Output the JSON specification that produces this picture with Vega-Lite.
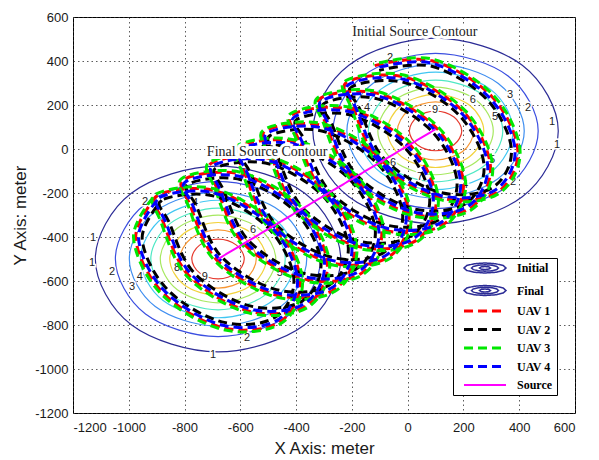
{
 "$schema": "https://vega.github.io/schema/vega-lite/v6.json",
 "width": 502,
 "height": 396,
 "autosize": {"type": "none"},
 "padding": {"left": 73, "top": 17, "right": 24, "bottom": 47},
 "background": "white",
 "config": {
  "view": {"stroke": "#000", "strokeWidth": 1},
  "axis": {"labelFont": "Liberation Sans", "labelFontSize": 13, "labelColor": "#1a1a1a", "titleFont": "Liberation Sans", "titleFontSize": 17, "titleFontWeight": "normal", "titleColor": "#1a1a1a", "domain": false, "ticks": false, "grid": true, "gridColor": "#333", "gridDash": [1.5, 3], "gridWidth": 1, "gridOpacity": 0.8, "labelExpr": "'' + datum.value"},
  "axisX": {"labelPadding": 8, "titlePadding": 6},
  "axisY": {"labelPadding": 5, "titlePadding": 5}
 },
 "datasets": {
  "contour": [
   {"src":"Initial","level":1,"i":0,"x":540,"y":82},{"src":"Initial","level":1,"i":1,"x":411,"y":381},{"src":"Initial","level":1,"i":2,"x":100,"y":504},{"src":"Initial","level":1,"i":3,"x":-211,"y":381},{"src":"Initial","level":1,"i":4,"x":-340,"y":82},{"src":"Initial","level":1,"i":5,"x":-211,"y":-217},{"src":"Initial","level":1,"i":6,"x":100,"y":-340},{"src":"Initial","level":1,"i":7,"x":411,"y":-217},
   {"src":"Initial","level":2,"i":0,"x":468,"y":82},{"src":"Initial","level":2,"i":1,"x":360,"y":332},{"src":"Initial","level":2,"i":2,"x":100,"y":435},{"src":"Initial","level":2,"i":3,"x":-160,"y":332},{"src":"Initial","level":2,"i":4,"x":-268,"y":82},{"src":"Initial","level":2,"i":5,"x":-160,"y":-168},{"src":"Initial","level":2,"i":6,"x":100,"y":-271},{"src":"Initial","level":2,"i":7,"x":360,"y":-168},
   {"src":"Initial","level":3,"i":0,"x":418,"y":82},{"src":"Initial","level":3,"i":1,"x":325,"y":298},{"src":"Initial","level":3,"i":2,"x":100,"y":387},{"src":"Initial","level":3,"i":3,"x":-125,"y":298},{"src":"Initial","level":3,"i":4,"x":-218,"y":82},{"src":"Initial","level":3,"i":5,"x":-125,"y":-134},{"src":"Initial","level":3,"i":6,"x":100,"y":-223},{"src":"Initial","level":3,"i":7,"x":325,"y":-134},
   {"src":"Initial","level":4,"i":0,"x":378,"y":82},{"src":"Initial","level":4,"i":1,"x":297,"y":271},{"src":"Initial","level":4,"i":2,"x":100,"y":349},{"src":"Initial","level":4,"i":3,"x":-97,"y":271},{"src":"Initial","level":4,"i":4,"x":-178,"y":82},{"src":"Initial","level":4,"i":5,"x":-97,"y":-107},{"src":"Initial","level":4,"i":6,"x":100,"y":-185},{"src":"Initial","level":4,"i":7,"x":297,"y":-107},
   {"src":"Initial","level":5,"i":0,"x":341,"y":82},{"src":"Initial","level":5,"i":1,"x":270,"y":245},{"src":"Initial","level":5,"i":2,"x":100,"y":313},{"src":"Initial","level":5,"i":3,"x":-70,"y":245},{"src":"Initial","level":5,"i":4,"x":-141,"y":82},{"src":"Initial","level":5,"i":5,"x":-70,"y":-81},{"src":"Initial","level":5,"i":6,"x":100,"y":-149},{"src":"Initial","level":5,"i":7,"x":270,"y":-81},
   {"src":"Initial","level":6,"i":0,"x":307,"y":82},{"src":"Initial","level":6,"i":1,"x":246,"y":222},{"src":"Initial","level":6,"i":2,"x":100,"y":281},{"src":"Initial","level":6,"i":3,"x":-46,"y":222},{"src":"Initial","level":6,"i":4,"x":-107,"y":82},{"src":"Initial","level":6,"i":5,"x":-46,"y":-58},{"src":"Initial","level":6,"i":6,"x":100,"y":-117},{"src":"Initial","level":6,"i":7,"x":246,"y":-58},
   {"src":"Initial","level":7,"i":0,"x":273,"y":82},{"src":"Initial","level":7,"i":1,"x":222,"y":199},{"src":"Initial","level":7,"i":2,"x":100,"y":248},{"src":"Initial","level":7,"i":3,"x":-22,"y":199},{"src":"Initial","level":7,"i":4,"x":-73,"y":82},{"src":"Initial","level":7,"i":5,"x":-22,"y":-35},{"src":"Initial","level":7,"i":6,"x":100,"y":-84},{"src":"Initial","level":7,"i":7,"x":222,"y":-35},
   {"src":"Initial","level":8,"i":0,"x":237,"y":82},{"src":"Initial","level":8,"i":1,"x":197,"y":175},{"src":"Initial","level":8,"i":2,"x":100,"y":214},{"src":"Initial","level":8,"i":3,"x":3,"y":175},{"src":"Initial","level":8,"i":4,"x":-37,"y":82},{"src":"Initial","level":8,"i":5,"x":3,"y":-11},{"src":"Initial","level":8,"i":6,"x":100,"y":-50},{"src":"Initial","level":8,"i":7,"x":197,"y":-11},
   {"src":"Initial","level":9,"i":0,"x":194,"y":82},{"src":"Initial","level":9,"i":1,"x":166,"y":145},{"src":"Initial","level":9,"i":2,"x":100,"y":172},{"src":"Initial","level":9,"i":3,"x":34,"y":145},{"src":"Initial","level":9,"i":4,"x":6,"y":82},{"src":"Initial","level":9,"i":5,"x":34,"y":19},{"src":"Initial","level":9,"i":6,"x":100,"y":-8},{"src":"Initial","level":9,"i":7,"x":166,"y":19},
   {"src":"Final","level":1,"i":0,"x":-240,"y":-500},{"src":"Final","level":1,"i":1,"x":-369,"y":-201},{"src":"Final","level":1,"i":2,"x":-680,"y":-78},{"src":"Final","level":1,"i":3,"x":-991,"y":-201},{"src":"Final","level":1,"i":4,"x":-1120,"y":-500},{"src":"Final","level":1,"i":5,"x":-991,"y":-799},{"src":"Final","level":1,"i":6,"x":-680,"y":-922},{"src":"Final","level":1,"i":7,"x":-369,"y":-799},
   {"src":"Final","level":2,"i":0,"x":-312,"y":-500},{"src":"Final","level":2,"i":1,"x":-420,"y":-250},{"src":"Final","level":2,"i":2,"x":-680,"y":-147},{"src":"Final","level":2,"i":3,"x":-940,"y":-250},{"src":"Final","level":2,"i":4,"x":-1048,"y":-500},{"src":"Final","level":2,"i":5,"x":-940,"y":-750},{"src":"Final","level":2,"i":6,"x":-680,"y":-853},{"src":"Final","level":2,"i":7,"x":-420,"y":-750},
   {"src":"Final","level":3,"i":0,"x":-362,"y":-500},{"src":"Final","level":3,"i":1,"x":-455,"y":-284},{"src":"Final","level":3,"i":2,"x":-680,"y":-195},{"src":"Final","level":3,"i":3,"x":-905,"y":-284},{"src":"Final","level":3,"i":4,"x":-998,"y":-500},{"src":"Final","level":3,"i":5,"x":-905,"y":-716},{"src":"Final","level":3,"i":6,"x":-680,"y":-805},{"src":"Final","level":3,"i":7,"x":-455,"y":-716},
   {"src":"Final","level":4,"i":0,"x":-402,"y":-500},{"src":"Final","level":4,"i":1,"x":-483,"y":-311},{"src":"Final","level":4,"i":2,"x":-680,"y":-233},{"src":"Final","level":4,"i":3,"x":-877,"y":-311},{"src":"Final","level":4,"i":4,"x":-958,"y":-500},{"src":"Final","level":4,"i":5,"x":-877,"y":-689},{"src":"Final","level":4,"i":6,"x":-680,"y":-767},{"src":"Final","level":4,"i":7,"x":-483,"y":-689},
   {"src":"Final","level":5,"i":0,"x":-439,"y":-500},{"src":"Final","level":5,"i":1,"x":-510,"y":-337},{"src":"Final","level":5,"i":2,"x":-680,"y":-269},{"src":"Final","level":5,"i":3,"x":-850,"y":-337},{"src":"Final","level":5,"i":4,"x":-921,"y":-500},{"src":"Final","level":5,"i":5,"x":-850,"y":-663},{"src":"Final","level":5,"i":6,"x":-680,"y":-731},{"src":"Final","level":5,"i":7,"x":-510,"y":-663},
   {"src":"Final","level":6,"i":0,"x":-473,"y":-500},{"src":"Final","level":6,"i":1,"x":-534,"y":-360},{"src":"Final","level":6,"i":2,"x":-680,"y":-301},{"src":"Final","level":6,"i":3,"x":-826,"y":-360},{"src":"Final","level":6,"i":4,"x":-887,"y":-500},{"src":"Final","level":6,"i":5,"x":-826,"y":-640},{"src":"Final","level":6,"i":6,"x":-680,"y":-699},{"src":"Final","level":6,"i":7,"x":-534,"y":-640},
   {"src":"Final","level":7,"i":0,"x":-507,"y":-500},{"src":"Final","level":7,"i":1,"x":-558,"y":-383},{"src":"Final","level":7,"i":2,"x":-680,"y":-334},{"src":"Final","level":7,"i":3,"x":-802,"y":-383},{"src":"Final","level":7,"i":4,"x":-853,"y":-500},{"src":"Final","level":7,"i":5,"x":-802,"y":-617},{"src":"Final","level":7,"i":6,"x":-680,"y":-666},{"src":"Final","level":7,"i":7,"x":-558,"y":-617},
   {"src":"Final","level":8,"i":0,"x":-543,"y":-500},{"src":"Final","level":8,"i":1,"x":-583,"y":-407},{"src":"Final","level":8,"i":2,"x":-680,"y":-368},{"src":"Final","level":8,"i":3,"x":-777,"y":-407},{"src":"Final","level":8,"i":4,"x":-817,"y":-500},{"src":"Final","level":8,"i":5,"x":-777,"y":-593},{"src":"Final","level":8,"i":6,"x":-680,"y":-632},{"src":"Final","level":8,"i":7,"x":-583,"y":-593},
   {"src":"Final","level":9,"i":0,"x":-586,"y":-500},{"src":"Final","level":9,"i":1,"x":-614,"y":-437},{"src":"Final","level":9,"i":2,"x":-680,"y":-410},{"src":"Final","level":9,"i":3,"x":-746,"y":-437},{"src":"Final","level":9,"i":4,"x":-774,"y":-500},{"src":"Final","level":9,"i":5,"x":-746,"y":-563},{"src":"Final","level":9,"i":6,"x":-680,"y":-590},{"src":"Final","level":9,"i":7,"x":-614,"y":-563}
  ],
  "clabels": [
   {"x":-63,"y":414,"t":"2"},{"x":432,"y":186,"t":"2"},{"x":367,"y":245,"t":"3"},{"x":313,"y":145,"t":"5"},{"x":234,"y":223,"t":"6"},{"x":98,"y":177,"t":"9"},{"x":44,"y":-127,"t":"7"},{"x":-52,"y":-64,"t":"6"},{"x":-146,"y":186,"t":"4"},{"x":206,"y":-164,"t":"4"},{"x":518,"y":123,"t":"1"},{"x":536,"y":20,"t":"1"},{"x":378,"y":-150,"t":"2"},{"x":303,"y":-50,"t":"5"},
   {"x":-1128,"y":-404,"t":"1"},{"x":-1132,"y":-518,"t":"1"},{"x":-1060,"y":-559,"t":"2"},{"x":-988,"y":-627,"t":"3"},{"x":-960,"y":-582,"t":"4"},{"x":-942,"y":-241,"t":"2"},{"x":-762,"y":-245,"t":"4"},{"x":-827,"y":-541,"t":"8"},{"x":-727,"y":-582,"t":"9"},{"x":-554,"y":-368,"t":"6"},{"x":-458,"y":-564,"t":"5"},{"x":-698,"y":-936,"t":"1"},{"x":-576,"y":-859,"t":"2"}
  ],
  "notes": [
   {"x":26,"y":532,"t":"Initial Source Contour"},
   {"x":-504,"y":-14,"t":"Final Source Contour"}
  ],
  "source": [
   {"uav":"Source","i":0,"x":100,"y":90},
   {"uav":"Source","i":1,"x":-680,"y":-500}
  ],
  "uav": [
   {"uav":"UAV 1","i":0,"x":-118,"y":379},{"uav":"UAV 1","i":1,"x":87,"y":401},{"uav":"UAV 1","i":2,"x":300,"y":241},{"uav":"UAV 1","i":3,"x":395,"y":-8},{"uav":"UAV 1","i":4,"x":318,"y":-199},{"uav":"UAV 1","i":5,"x":113,"y":-221},{"uav":"UAV 1","i":6,"x":-100,"y":-61},{"uav":"UAV 1","i":7,"x":-195,"y":188},
   {"uav":"UAV 1","i":8,"x":-216,"y":305},{"uav":"UAV 1","i":9,"x":-11,"y":327},{"uav":"UAV 1","i":10,"x":202,"y":167},{"uav":"UAV 1","i":11,"x":297,"y":-82},{"uav":"UAV 1","i":12,"x":220,"y":-273},{"uav":"UAV 1","i":13,"x":15,"y":-295},{"uav":"UAV 1","i":14,"x":-198,"y":-135},{"uav":"UAV 1","i":15,"x":-293,"y":114},
   {"uav":"UAV 1","i":16,"x":-313,"y":231},{"uav":"UAV 1","i":17,"x":-108,"y":253},{"uav":"UAV 1","i":18,"x":105,"y":93},{"uav":"UAV 1","i":19,"x":200,"y":-156},{"uav":"UAV 1","i":20,"x":123,"y":-347},{"uav":"UAV 1","i":21,"x":-82,"y":-369},{"uav":"UAV 1","i":22,"x":-295,"y":-209},{"uav":"UAV 1","i":23,"x":-390,"y":40},
   {"uav":"UAV 1","i":24,"x":-411,"y":158},{"uav":"UAV 1","i":25,"x":-206,"y":180},{"uav":"UAV 1","i":26,"x":7,"y":20},{"uav":"UAV 1","i":27,"x":102,"y":-229},{"uav":"UAV 1","i":28,"x":25,"y":-420},{"uav":"UAV 1","i":29,"x":-180,"y":-442},{"uav":"UAV 1","i":30,"x":-393,"y":-282},{"uav":"UAV 1","i":31,"x":-488,"y":-33},
   {"uav":"UAV 1","i":32,"x":-508,"y":84},{"uav":"UAV 1","i":33,"x":-303,"y":106},{"uav":"UAV 1","i":34,"x":-90,"y":-54},{"uav":"UAV 1","i":35,"x":5,"y":-303},{"uav":"UAV 1","i":36,"x":-72,"y":-494},{"uav":"UAV 1","i":37,"x":-277,"y":-516},{"uav":"UAV 1","i":38,"x":-490,"y":-356},{"uav":"UAV 1","i":39,"x":-585,"y":-107},
   {"uav":"UAV 1","i":40,"x":-606,"y":10},{"uav":"UAV 1","i":41,"x":-401,"y":32},{"uav":"UAV 1","i":42,"x":-188,"y":-128},{"uav":"UAV 1","i":43,"x":-93,"y":-377},{"uav":"UAV 1","i":44,"x":-170,"y":-568},{"uav":"UAV 1","i":45,"x":-375,"y":-590},{"uav":"UAV 1","i":46,"x":-588,"y":-430},{"uav":"UAV 1","i":47,"x":-683,"y":-181},
   {"uav":"UAV 1","i":48,"x":-703,"y":-64},{"uav":"UAV 1","i":49,"x":-498,"y":-42},{"uav":"UAV 1","i":50,"x":-285,"y":-202},{"uav":"UAV 1","i":51,"x":-190,"y":-451},{"uav":"UAV 1","i":52,"x":-267,"y":-642},{"uav":"UAV 1","i":53,"x":-472,"y":-664},{"uav":"UAV 1","i":54,"x":-685,"y":-504},{"uav":"UAV 1","i":55,"x":-780,"y":-255},
   {"uav":"UAV 1","i":56,"x":-801,"y":-137},{"uav":"UAV 1","i":57,"x":-596,"y":-115},{"uav":"UAV 1","i":58,"x":-383,"y":-275},{"uav":"UAV 1","i":59,"x":-288,"y":-524},{"uav":"UAV 1","i":60,"x":-365,"y":-715},{"uav":"UAV 1","i":61,"x":-570,"y":-737},{"uav":"UAV 1","i":62,"x":-783,"y":-577},{"uav":"UAV 1","i":63,"x":-878,"y":-328},
   {"uav":"UAV 1","i":64,"x":-898,"y":-211},{"uav":"UAV 1","i":65,"x":-693,"y":-189},{"uav":"UAV 1","i":66,"x":-480,"y":-349},{"uav":"UAV 1","i":67,"x":-385,"y":-598},{"uav":"UAV 1","i":68,"x":-462,"y":-789},{"uav":"UAV 1","i":69,"x":-667,"y":-811},{"uav":"UAV 1","i":70,"x":-880,"y":-651},{"uav":"UAV 1","i":71,"x":-975,"y":-402},{"uav":"UAV 1","i":72,"x":-898,"y":-211},
   {"uav":"UAV 2","i":0,"x":-102,"y":357},{"uav":"UAV 2","i":1,"x":86,"y":376},{"uav":"UAV 2","i":2,"x":282,"y":228},{"uav":"UAV 2","i":3,"x":372,"y":-2},{"uav":"UAV 2","i":4,"x":302,"y":-177},{"uav":"UAV 2","i":5,"x":114,"y":-196},{"uav":"UAV 2","i":6,"x":-82,"y":-48},{"uav":"UAV 2","i":7,"x":-172,"y":182},
   {"uav":"UAV 2","i":8,"x":-200,"y":283},{"uav":"UAV 2","i":9,"x":-12,"y":302},{"uav":"UAV 2","i":10,"x":184,"y":154},{"uav":"UAV 2","i":11,"x":274,"y":-76},{"uav":"UAV 2","i":12,"x":204,"y":-251},{"uav":"UAV 2","i":13,"x":16,"y":-270},{"uav":"UAV 2","i":14,"x":-180,"y":-122},{"uav":"UAV 2","i":15,"x":-270,"y":108},
   {"uav":"UAV 2","i":16,"x":-297,"y":209},{"uav":"UAV 2","i":17,"x":-109,"y":228},{"uav":"UAV 2","i":18,"x":87,"y":80},{"uav":"UAV 2","i":19,"x":177,"y":-150},{"uav":"UAV 2","i":20,"x":107,"y":-325},{"uav":"UAV 2","i":21,"x":-81,"y":-344},{"uav":"UAV 2","i":22,"x":-277,"y":-196},{"uav":"UAV 2","i":23,"x":-367,"y":34},
   {"uav":"UAV 2","i":24,"x":-395,"y":136},{"uav":"UAV 2","i":25,"x":-207,"y":155},{"uav":"UAV 2","i":26,"x":-11,"y":7},{"uav":"UAV 2","i":27,"x":79,"y":-223},{"uav":"UAV 2","i":28,"x":9,"y":-398},{"uav":"UAV 2","i":29,"x":-179,"y":-417},{"uav":"UAV 2","i":30,"x":-375,"y":-269},{"uav":"UAV 2","i":31,"x":-465,"y":-39},
   {"uav":"UAV 2","i":32,"x":-492,"y":62},{"uav":"UAV 2","i":33,"x":-304,"y":81},{"uav":"UAV 2","i":34,"x":-108,"y":-67},{"uav":"UAV 2","i":35,"x":-18,"y":-297},{"uav":"UAV 2","i":36,"x":-88,"y":-472},{"uav":"UAV 2","i":37,"x":-276,"y":-491},{"uav":"UAV 2","i":38,"x":-472,"y":-343},{"uav":"UAV 2","i":39,"x":-562,"y":-113},
   {"uav":"UAV 2","i":40,"x":-590,"y":-12},{"uav":"UAV 2","i":41,"x":-402,"y":7},{"uav":"UAV 2","i":42,"x":-206,"y":-141},{"uav":"UAV 2","i":43,"x":-116,"y":-371},{"uav":"UAV 2","i":44,"x":-186,"y":-546},{"uav":"UAV 2","i":45,"x":-374,"y":-565},{"uav":"UAV 2","i":46,"x":-570,"y":-417},{"uav":"UAV 2","i":47,"x":-660,"y":-187},
   {"uav":"UAV 2","i":48,"x":-687,"y":-86},{"uav":"UAV 2","i":49,"x":-499,"y":-67},{"uav":"UAV 2","i":50,"x":-303,"y":-215},{"uav":"UAV 2","i":51,"x":-213,"y":-445},{"uav":"UAV 2","i":52,"x":-283,"y":-620},{"uav":"UAV 2","i":53,"x":-471,"y":-639},{"uav":"UAV 2","i":54,"x":-667,"y":-491},{"uav":"UAV 2","i":55,"x":-757,"y":-261},
   {"uav":"UAV 2","i":56,"x":-785,"y":-159},{"uav":"UAV 2","i":57,"x":-597,"y":-140},{"uav":"UAV 2","i":58,"x":-401,"y":-288},{"uav":"UAV 2","i":59,"x":-311,"y":-518},{"uav":"UAV 2","i":60,"x":-381,"y":-693},{"uav":"UAV 2","i":61,"x":-569,"y":-712},{"uav":"UAV 2","i":62,"x":-765,"y":-564},{"uav":"UAV 2","i":63,"x":-855,"y":-334},
   {"uav":"UAV 2","i":64,"x":-882,"y":-233},{"uav":"UAV 2","i":65,"x":-694,"y":-214},{"uav":"UAV 2","i":66,"x":-498,"y":-362},{"uav":"UAV 2","i":67,"x":-408,"y":-592},{"uav":"UAV 2","i":68,"x":-478,"y":-767},{"uav":"UAV 2","i":69,"x":-666,"y":-786},{"uav":"UAV 2","i":70,"x":-862,"y":-638},{"uav":"UAV 2","i":71,"x":-952,"y":-408},{"uav":"UAV 2","i":72,"x":-882,"y":-233},
   {"uav":"UAV 3","i":0,"x":-123,"y":385},{"uav":"UAV 3","i":1,"x":88,"y":409},{"uav":"UAV 3","i":2,"x":306,"y":246},{"uav":"UAV 3","i":3,"x":403,"y":-9},{"uav":"UAV 3","i":4,"x":323,"y":-205},{"uav":"UAV 3","i":5,"x":112,"y":-229},{"uav":"UAV 3","i":6,"x":-106,"y":-66},{"uav":"UAV 3","i":7,"x":-203,"y":189},
   {"uav":"UAV 3","i":8,"x":-221,"y":311},{"uav":"UAV 3","i":9,"x":-10,"y":335},{"uav":"UAV 3","i":10,"x":208,"y":172},{"uav":"UAV 3","i":11,"x":305,"y":-83},{"uav":"UAV 3","i":12,"x":225,"y":-279},{"uav":"UAV 3","i":13,"x":14,"y":-303},{"uav":"UAV 3","i":14,"x":-204,"y":-140},{"uav":"UAV 3","i":15,"x":-301,"y":115},
   {"uav":"UAV 3","i":16,"x":-318,"y":237},{"uav":"UAV 3","i":17,"x":-107,"y":261},{"uav":"UAV 3","i":18,"x":111,"y":98},{"uav":"UAV 3","i":19,"x":208,"y":-157},{"uav":"UAV 3","i":20,"x":128,"y":-353},{"uav":"UAV 3","i":21,"x":-83,"y":-377},{"uav":"UAV 3","i":22,"x":-301,"y":-214},{"uav":"UAV 3","i":23,"x":-398,"y":41},
   {"uav":"UAV 3","i":24,"x":-416,"y":164},{"uav":"UAV 3","i":25,"x":-205,"y":188},{"uav":"UAV 3","i":26,"x":13,"y":25},{"uav":"UAV 3","i":27,"x":110,"y":-230},{"uav":"UAV 3","i":28,"x":30,"y":-426},{"uav":"UAV 3","i":29,"x":-181,"y":-450},{"uav":"UAV 3","i":30,"x":-399,"y":-287},{"uav":"UAV 3","i":31,"x":-496,"y":-32},
   {"uav":"UAV 3","i":32,"x":-513,"y":90},{"uav":"UAV 3","i":33,"x":-302,"y":114},{"uav":"UAV 3","i":34,"x":-84,"y":-49},{"uav":"UAV 3","i":35,"x":13,"y":-304},{"uav":"UAV 3","i":36,"x":-67,"y":-500},{"uav":"UAV 3","i":37,"x":-278,"y":-524},{"uav":"UAV 3","i":38,"x":-496,"y":-361},{"uav":"UAV 3","i":39,"x":-593,"y":-106},
   {"uav":"UAV 3","i":40,"x":-611,"y":16},{"uav":"UAV 3","i":41,"x":-400,"y":40},{"uav":"UAV 3","i":42,"x":-182,"y":-123},{"uav":"UAV 3","i":43,"x":-85,"y":-378},{"uav":"UAV 3","i":44,"x":-165,"y":-574},{"uav":"UAV 3","i":45,"x":-376,"y":-598},{"uav":"UAV 3","i":46,"x":-594,"y":-435},{"uav":"UAV 3","i":47,"x":-691,"y":-180},
   {"uav":"UAV 3","i":48,"x":-708,"y":-58},{"uav":"UAV 3","i":49,"x":-497,"y":-34},{"uav":"UAV 3","i":50,"x":-279,"y":-197},{"uav":"UAV 3","i":51,"x":-182,"y":-452},{"uav":"UAV 3","i":52,"x":-262,"y":-648},{"uav":"UAV 3","i":53,"x":-473,"y":-672},{"uav":"UAV 3","i":54,"x":-691,"y":-509},{"uav":"UAV 3","i":55,"x":-788,"y":-254},
   {"uav":"UAV 3","i":56,"x":-806,"y":-131},{"uav":"UAV 3","i":57,"x":-595,"y":-107},{"uav":"UAV 3","i":58,"x":-377,"y":-270},{"uav":"UAV 3","i":59,"x":-280,"y":-525},{"uav":"UAV 3","i":60,"x":-360,"y":-721},{"uav":"UAV 3","i":61,"x":-571,"y":-745},{"uav":"UAV 3","i":62,"x":-789,"y":-582},{"uav":"UAV 3","i":63,"x":-886,"y":-327},
   {"uav":"UAV 3","i":64,"x":-903,"y":-205},{"uav":"UAV 3","i":65,"x":-692,"y":-181},{"uav":"UAV 3","i":66,"x":-474,"y":-344},{"uav":"UAV 3","i":67,"x":-377,"y":-599},{"uav":"UAV 3","i":68,"x":-457,"y":-795},{"uav":"UAV 3","i":69,"x":-668,"y":-819},{"uav":"UAV 3","i":70,"x":-886,"y":-656},{"uav":"UAV 3","i":71,"x":-983,"y":-401},{"uav":"UAV 3","i":72,"x":-903,"y":-205},
   {"uav":"UAV 4","i":0,"x":-111,"y":369},{"uav":"UAV 4","i":1,"x":86,"y":390},{"uav":"UAV 4","i":2,"x":292,"y":235},{"uav":"UAV 4","i":3,"x":385,"y":-5},{"uav":"UAV 4","i":4,"x":311,"y":-189},{"uav":"UAV 4","i":5,"x":114,"y":-210},{"uav":"UAV 4","i":6,"x":-92,"y":-55},{"uav":"UAV 4","i":7,"x":-185,"y":185},
   {"uav":"UAV 4","i":8,"x":-209,"y":295},{"uav":"UAV 4","i":9,"x":-12,"y":316},{"uav":"UAV 4","i":10,"x":194,"y":161},{"uav":"UAV 4","i":11,"x":287,"y":-79},{"uav":"UAV 4","i":12,"x":213,"y":-263},{"uav":"UAV 4","i":13,"x":16,"y":-284},{"uav":"UAV 4","i":14,"x":-190,"y":-129},{"uav":"UAV 4","i":15,"x":-283,"y":111},
   {"uav":"UAV 4","i":16,"x":-306,"y":221},{"uav":"UAV 4","i":17,"x":-109,"y":242},{"uav":"UAV 4","i":18,"x":97,"y":87},{"uav":"UAV 4","i":19,"x":190,"y":-153},{"uav":"UAV 4","i":20,"x":116,"y":-337},{"uav":"UAV 4","i":21,"x":-81,"y":-358},{"uav":"UAV 4","i":22,"x":-287,"y":-203},{"uav":"UAV 4","i":23,"x":-380,"y":37},
   {"uav":"UAV 4","i":24,"x":-404,"y":148},{"uav":"UAV 4","i":25,"x":-207,"y":169},{"uav":"UAV 4","i":26,"x":-1,"y":14},{"uav":"UAV 4","i":27,"x":92,"y":-226},{"uav":"UAV 4","i":28,"x":18,"y":-410},{"uav":"UAV 4","i":29,"x":-179,"y":-431},{"uav":"UAV 4","i":30,"x":-385,"y":-276},{"uav":"UAV 4","i":31,"x":-478,"y":-36},
   {"uav":"UAV 4","i":32,"x":-501,"y":74},{"uav":"UAV 4","i":33,"x":-304,"y":95},{"uav":"UAV 4","i":34,"x":-98,"y":-60},{"uav":"UAV 4","i":35,"x":-5,"y":-300},{"uav":"UAV 4","i":36,"x":-79,"y":-484},{"uav":"UAV 4","i":37,"x":-276,"y":-505},{"uav":"UAV 4","i":38,"x":-482,"y":-350},{"uav":"UAV 4","i":39,"x":-575,"y":-110},
   {"uav":"UAV 4","i":40,"x":-599,"y":0},{"uav":"UAV 4","i":41,"x":-402,"y":21},{"uav":"UAV 4","i":42,"x":-196,"y":-134},{"uav":"UAV 4","i":43,"x":-103,"y":-374},{"uav":"UAV 4","i":44,"x":-177,"y":-558},{"uav":"UAV 4","i":45,"x":-374,"y":-579},{"uav":"UAV 4","i":46,"x":-580,"y":-424},{"uav":"UAV 4","i":47,"x":-673,"y":-184},
   {"uav":"UAV 4","i":48,"x":-696,"y":-74},{"uav":"UAV 4","i":49,"x":-499,"y":-53},{"uav":"UAV 4","i":50,"x":-293,"y":-208},{"uav":"UAV 4","i":51,"x":-200,"y":-448},{"uav":"UAV 4","i":52,"x":-274,"y":-632},{"uav":"UAV 4","i":53,"x":-471,"y":-653},{"uav":"UAV 4","i":54,"x":-677,"y":-498},{"uav":"UAV 4","i":55,"x":-770,"y":-258},
   {"uav":"UAV 4","i":56,"x":-794,"y":-147},{"uav":"UAV 4","i":57,"x":-597,"y":-126},{"uav":"UAV 4","i":58,"x":-391,"y":-281},{"uav":"UAV 4","i":59,"x":-298,"y":-521},{"uav":"UAV 4","i":60,"x":-372,"y":-705},{"uav":"UAV 4","i":61,"x":-569,"y":-726},{"uav":"UAV 4","i":62,"x":-775,"y":-571},{"uav":"UAV 4","i":63,"x":-868,"y":-331},
   {"uav":"UAV 4","i":64,"x":-891,"y":-221},{"uav":"UAV 4","i":65,"x":-694,"y":-200},{"uav":"UAV 4","i":66,"x":-488,"y":-355},{"uav":"UAV 4","i":67,"x":-395,"y":-595},{"uav":"UAV 4","i":68,"x":-469,"y":-779},{"uav":"UAV 4","i":69,"x":-666,"y":-800},{"uav":"UAV 4","i":70,"x":-872,"y":-645},{"uav":"UAV 4","i":71,"x":-965,"y":-405},{"uav":"UAV 4","i":72,"x":-891,"y":-221}
  ]
 },
 "layer": [
  {
   "data": {"name": "contour"},
   "mark": {"type": "line", "interpolate": "cardinal-closed", "strokeWidth": 1.2},
   "encoding": {
    "x": {"field": "x", "type": "quantitative", "scale": {"domain": [-1200, 600], "nice": false, "zero": false}, "axis": {"title": "X Axis: meter", "values": [-1200, -1000, -800, -600, -400, -200, 0, 200, 400, 600]}},
    "y": {"field": "y", "type": "quantitative", "scale": {"domain": [-1200, 600], "nice": false, "zero": false}, "axis": {"title": "Y Axis: meter", "values": [-1200, -1000, -800, -600, -400, -200, 0, 200, 400, 600]}},
    "detail": {"field": "src", "type": "nominal"},
    "stroke": {"field": "level", "type": "ordinal", "scale": {"domain": [1, 2, 3, 4, 5, 6, 7, 8, 9], "range": ["#2c2c96", "#3a4ee0", "#3f8ef0", "#40c6f2", "#4ee8c4", "#a6e860", "#f2d23c", "#f79632", "#e63a2e"]}, "legend": null},
    "order": {"field": "i", "type": "quantitative"}
   }
  },
  {
   "data": {"name": "clabels"},
   "mark": {"type": "text", "font": "Liberation Sans", "fontSize": 11, "stroke": "#fff", "strokeWidth": 3, "fill": "#fff"},
   "encoding": {
    "x": {"field": "x", "type": "quantitative"},
    "y": {"field": "y", "type": "quantitative"},
    "text": {"field": "t", "type": "nominal"}
   }
  },
  {
   "data": {"name": "clabels"},
   "mark": {"type": "text", "font": "Liberation Sans", "fontSize": 11, "color": "#222"},
   "encoding": {
    "x": {"field": "x", "type": "quantitative"},
    "y": {"field": "y", "type": "quantitative"},
    "text": {"field": "t", "type": "nominal"}
   }
  },
  {
   "data": {"name": "uav"},
   "transform": [{"filter": "datum.uav == 'UAV 1'"}],
   "mark": {"type": "line", "interpolate": "cardinal", "strokeWidth": 3, "strokeDashOffset": 0},
   "encoding": {
    "x": {"field": "x", "type": "quantitative"},
    "y": {"field": "y", "type": "quantitative"},
    "order": {"field": "i", "type": "quantitative"},
    "strokeDash": {"field": "uav", "type": "nominal", "scale": {"domain": ["Initial", "Final", "UAV 1", "UAV 2", "UAV 3", "UAV 4", "Source"], "range": [[1, 0], [1, 0], [9, 5], [9, 5], [9, 5], [9, 5], [1, 0]]}},
    "color": {"field": "uav", "type": "nominal",
     "scale": {"domain": ["Initial", "Final", "UAV 1", "UAV 2", "UAV 3", "UAV 4", "Source"], "range": ["#2c2c96", "#2c2c96", "#ff0000", "#000000", "#00e800", "#0000ff", "#ff00ff"]},
     "legend": {
      "title": null, "orient": "none", "legendX": 380, "legendY": 241,
      "strokeColor": "#000", "fillColor": "#fff", "padding": 4,
      "labelFont": "Liberation Serif", "labelFontSize": 12, "labelFontWeight": "bold", "labelColor": "#000",
      "symbolSize": 400, "symbolStrokeWidth": 3, "rowPadding": 6.5, "symbolOffset": 22, "labelOffset": 26,
      "symbolType": "M-2.1,0H2.1",
      "encode": {"symbols": {"update": {
       "shape": {"signal": "datum.value == 'Initial' || datum.value == 'Final' ? 'M2.1,0L1.82,0.25L1.05,0.43L0,0.5L-1.05,0.43L-1.82,0.25L-2.1,0L-1.82,-0.25L-1.05,-0.43L0,-0.5L1.05,-0.43L1.82,-0.25ZM1.35,0L1.17,0.16L0.68,0.28L0,0.32L-0.68,0.28L-1.17,0.16L-1.35,0L-1.17,-0.16L-0.68,-0.28L0,-0.32L0.68,-0.28L1.17,-0.16ZM0.55,0L0.39,0.11L0,0.15L-0.39,0.11L-0.55,0L-0.39,-0.11L0,-0.15L0.39,-0.11Z' : 'M-2.1,0H2.1'"},
       "strokeWidth": {"signal": "datum.value == 'Initial' || datum.value == 'Final' ? 1.5 : (datum.value == 'Source' ? 2 : 3)"},
       "fill": {"value": "transparent"}
      }}}
     }
    }
   }
  },
  {
   "data": {"name": "uav"},
   "transform": [{"filter": "datum.uav == 'UAV 2'"}],
   "mark": {"type": "line", "interpolate": "cardinal", "strokeWidth": 3, "strokeDashOffset": 4},
   "encoding": {
    "x": {"field": "x", "type": "quantitative"},
    "y": {"field": "y", "type": "quantitative"},
    "order": {"field": "i", "type": "quantitative"},
    "strokeDash": {"field": "uav", "type": "nominal"},
    "color": {"field": "uav", "type": "nominal"}
   }
  },
  {
   "data": {"name": "uav"},
   "transform": [{"filter": "datum.uav == 'UAV 3'"}],
   "mark": {"type": "line", "interpolate": "cardinal", "strokeWidth": 3, "strokeDashOffset": 8},
   "encoding": {
    "x": {"field": "x", "type": "quantitative"},
    "y": {"field": "y", "type": "quantitative"},
    "order": {"field": "i", "type": "quantitative"},
    "strokeDash": {"field": "uav", "type": "nominal"},
    "color": {"field": "uav", "type": "nominal"}
   }
  },
  {
   "data": {"name": "uav"},
   "transform": [{"filter": "datum.uav == 'UAV 4'"}],
   "mark": {"type": "line", "interpolate": "cardinal", "strokeWidth": 3, "strokeDashOffset": 11},
   "encoding": {
    "x": {"field": "x", "type": "quantitative"},
    "y": {"field": "y", "type": "quantitative"},
    "order": {"field": "i", "type": "quantitative"},
    "strokeDash": {"field": "uav", "type": "nominal"},
    "color": {"field": "uav", "type": "nominal"}
   }
  },
  {
   "data": {"name": "source"},
   "mark": {"type": "line", "strokeWidth": 2},
   "encoding": {
    "x": {"field": "x", "type": "quantitative"},
    "y": {"field": "y", "type": "quantitative"},
    "order": {"field": "i", "type": "quantitative"},
    "strokeDash": {"field": "uav", "type": "nominal"},
    "color": {"field": "uav", "type": "nominal"}
   }
  },
  {
   "data": {"name": "notes"},
   "mark": {"type": "text", "font": "Liberation Serif", "fontSize": 14, "stroke": "#fff", "strokeWidth": 6, "fill": "#fff"},
   "encoding": {
    "x": {"field": "x", "type": "quantitative"},
    "y": {"field": "y", "type": "quantitative"},
    "text": {"field": "t", "type": "nominal"}
   }
  },
  {
   "data": {"name": "notes"},
   "mark": {"type": "text", "font": "Liberation Serif", "fontSize": 14, "color": "#222"},
   "encoding": {
    "x": {"field": "x", "type": "quantitative"},
    "y": {"field": "y", "type": "quantitative"},
    "text": {"field": "t", "type": "nominal"}
   }
  }
 ]
}
